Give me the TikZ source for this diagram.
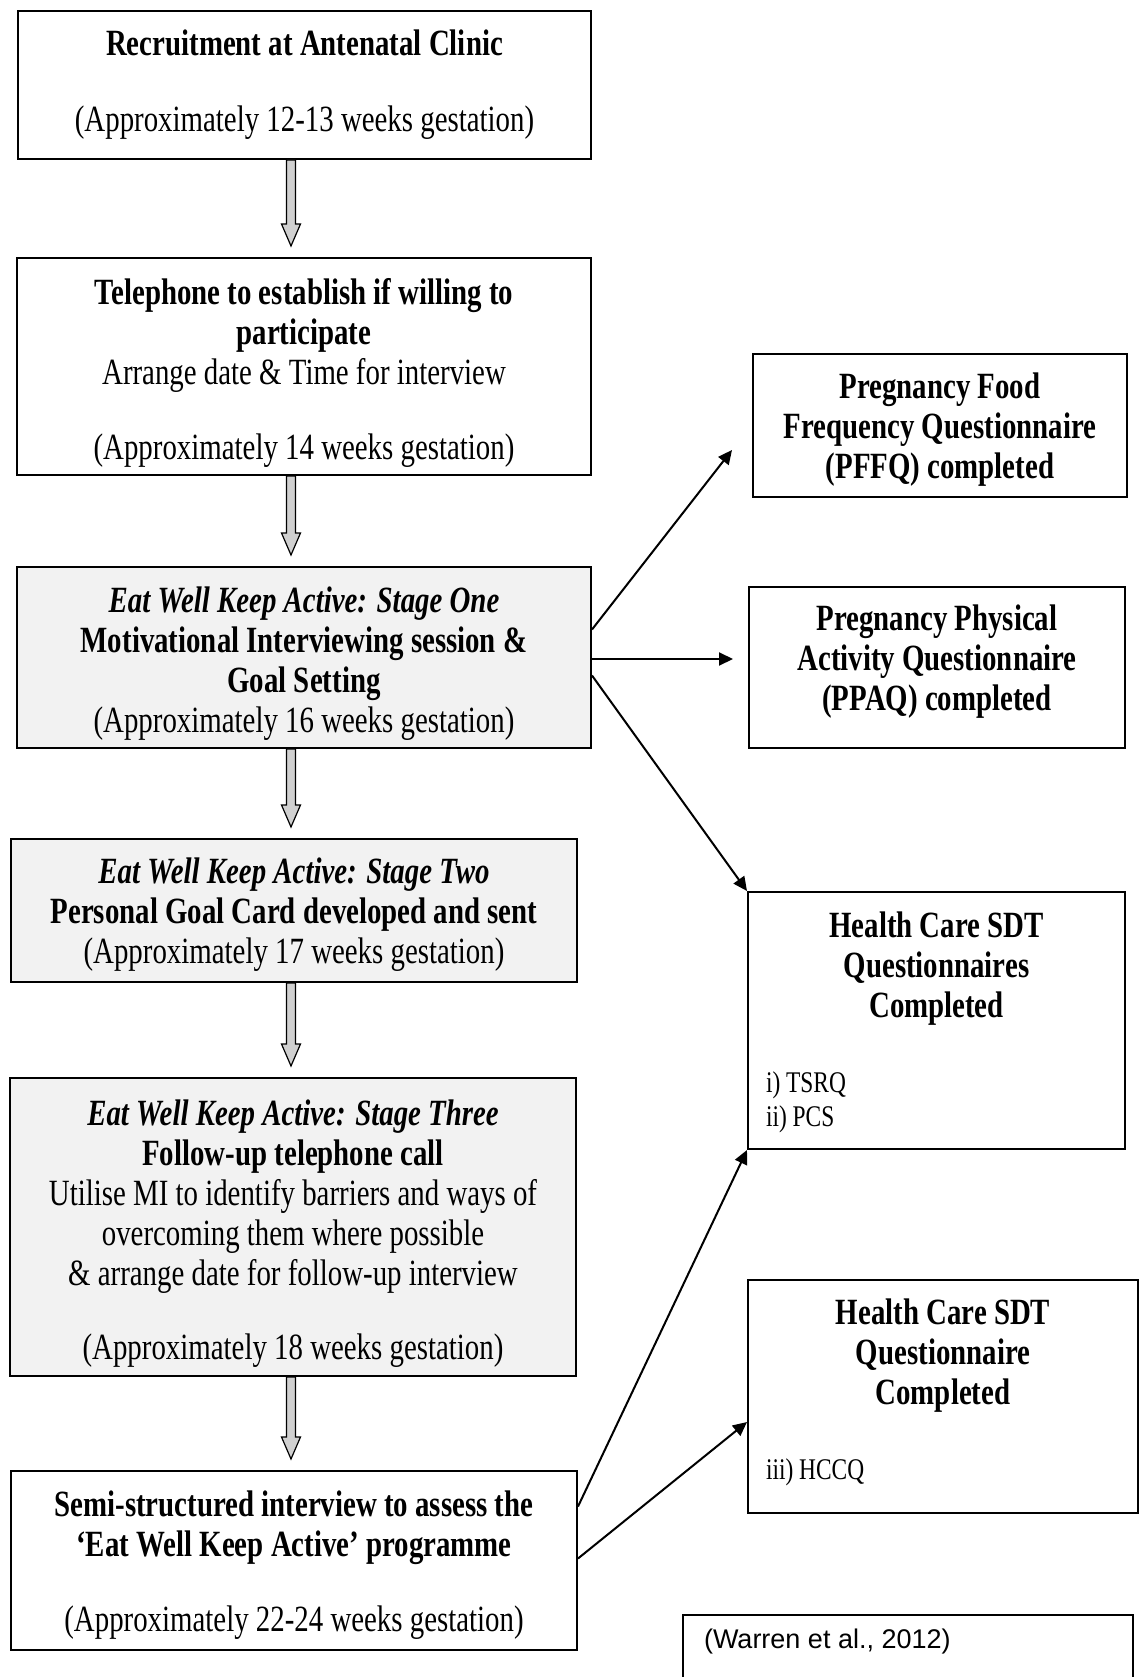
\documentclass[tikz,border=0pt]{standalone}
\usepackage{fontspec}
\setmainfont{Liberation Serif}[FakeStretch=0.78]
\newfontfamily\citefont{Liberation Sans}
\usetikzlibrary{arrows.meta, positioning, calc}
\definecolor{cfill}{HTML}{F2F2F2}
\definecolor{carrow}{HTML}{D0D0D0}
\tikzset{
  every picture/.style={line width=2pt},
  box/.style={draw, fill=#1, inner sep=0pt},
  box/.default=white,
  boxtext/.style={align=center, inner sep=0pt, font=\fontsize{37}{40}\selectfont},
  link/.style={-{Triangle[length=14pt, width=13pt]}, line width=2pt},
  hollow/.style={draw, fill=carrow, line width=1.2pt},
  listtext/.style={align=left, inner sep=0pt, font=\fontsize{30}{34}\selectfont},
  citetext/.style={inner sep=0pt, font=\citefont\fontsize{27}{30}\selectfont},
}

\begin{document}
\begin{tikzpicture}[x=1pt, y=-1pt]
  \useasboundingbox (0,0) rectangle (1140,1677);
  % main column
  \node[box, minimum width=573, minimum height=148] (rec) at (304.5,85) {};
  \node[boxtext] (rectext) at (rec.center)
    {\textbf{Recruitment at Antenatal Clinic}\\[36pt](Approximately 12-13 weeks gestation)};
  \node[box, minimum width=574, minimum height=217] (tel) at (304,366.5) {};
  \node[boxtext] (teltext) at ($(tel.center)+(0,6.5)$)
    {\textbf{Telephone to establish if willing to}\\\textbf{participate}\\Arrange date \& Time for interview\\[35pt](Approximately 14 weeks gestation)};
  \node[box=cfill, minimum width=574, minimum height=181] (one) at (304,657.5) {};
  \node[boxtext] (onetext) at ($(one.center)+(0,6.5)$)
    {\textbf{\textit{Eat Well Keep Active: Stage One}}\\\textbf{Motivational Interviewing session \&}\\\textbf{Goal Setting}\\(Approximately 16 weeks gestation)};
  \node[box=cfill, minimum width=566, minimum height=143] (two) at (294,910.5) {};
  \node[boxtext] (twotext) at ($(two.center)+(0,4.5)$)
    {\textbf{\textit{Eat Well Keep Active: Stage Two}}\\\textbf{Personal Goal Card developed and sent}\\(Approximately 17 weeks gestation)};
  \node[box=cfill, minimum width=566, minimum height=298] (three) at (293,1227) {};
  \node[boxtext] (threetext) at ($(three.center)+(0,6.5)$)
    {\textbf{\textit{Eat Well Keep Active: Stage Three}}\\\textbf{Follow-up telephone call}\\Utilise MI to identify barriers and ways of\\overcoming them where possible\\\& arrange date for follow-up interview\\[34pt](Approximately 18 weeks gestation)};
  \node[box, minimum width=566, minimum height=179] (semi) at (294,1560.5) {};
  \node[boxtext] (semitext) at ($(semi.center)+(0,4.5)$)
    {\textbf{Semi-structured interview to assess the}\\\textbf{`Eat Well Keep Active' programme}\\[35pt](Approximately 22-24 weeks gestation)};

  % questionnaires
  \node[box, minimum width=374, minimum height=143] (pffq) at (940,425.5) {};
  \node[boxtext] (pffqtext) at ($(pffq.center)+(0,4.5)$)
    {\textbf{Pregnancy Food}\\\textbf{Frequency Questionnaire}\\\textbf{(PFFQ) completed}};
  \node[box, minimum width=376, minimum height=161] (ppaq) at (937,667.5) {};
  \node[boxtext] (ppaqtext) at ($(ppaq.center)+(0,-6)$)
    {\textbf{Pregnancy Physical}\\\textbf{Activity Questionnaire}\\\textbf{(PPAQ) completed}};
  \node[box, minimum width=377, minimum height=257] (sdt) at (936.5,1020.5) {};
  \node[boxtext] (sdttext) at ($(sdt.north)+(0,78)$)
    {\textbf{Health Care SDT}\\\textbf{Questionnaires}\\\textbf{Completed}};
  \node[listtext, anchor=west] (sdtlist) at ($(sdt.west)+(18,81.5)$) {i) TSRQ\\ii) PCS};
  \node[box, minimum width=390, minimum height=233] (hccq) at (943,1396.5) {};
  \node[boxtext] (hccqtext) at ($(hccq.north)+(0,77)$)
    {\textbf{Health Care SDT}\\\textbf{Questionnaire}\\\textbf{Completed}};
  \node[listtext, anchor=west] (hccqlist) at ($(hccq.west)+(18,75.5)$) {iii) HCCQ};

  % citation
  \node[citetext, anchor=west] (cite) at (703,1641) {(Warren et al., 2012)};
  \draw (683,1677) |- (1133,1615) -- (1133,1677);

  % block arrows down the main column
  \coordinate (spine) at (291,0);
  \foreach \a/\b in {rec/tel, tel/one, one/two, two/three, three/semi}
    \draw[hollow] ($(spine |- \a.south)+(-4.5,0)$) -- ($(spine |- \b.north)+(-4.5,-33)$)
      -- ($(spine |- \b.north)+(-9.5,-33)$) -- ($(spine |- \b.north)+(0,-11)$)
      -- ($(spine |- \b.north)+(9.5,-33)$) -- ($(spine |- \b.north)+(4.5,-33)$)
      -- ($(spine |- \a.south)+(4.5,0)$) -- cycle;

  % links to questionnaires
  \coordinate (pffqin) at ($(pffq.west)+(-20,24.5)$);
  \coordinate (ppaqin) at (733,659);
  \coordinate (hccqin) at ($(hccq.west)+(0,25.5)$);
  \draw[link] ($(one.east)+(0,-28)$) -- (pffqin);
  \draw[link] (one.east |- ppaqin) -- (ppaqin);
  \draw[link] ($(one.east)+(0,18)$) -- (sdt.north west);
  \draw[link] ($(semi.east)+(0,-54)$) -- (sdt.south west);
  \draw[link] ($(semi.east)+(0,-2)$) -- (hccqin);
\end{tikzpicture}
\end{document}
